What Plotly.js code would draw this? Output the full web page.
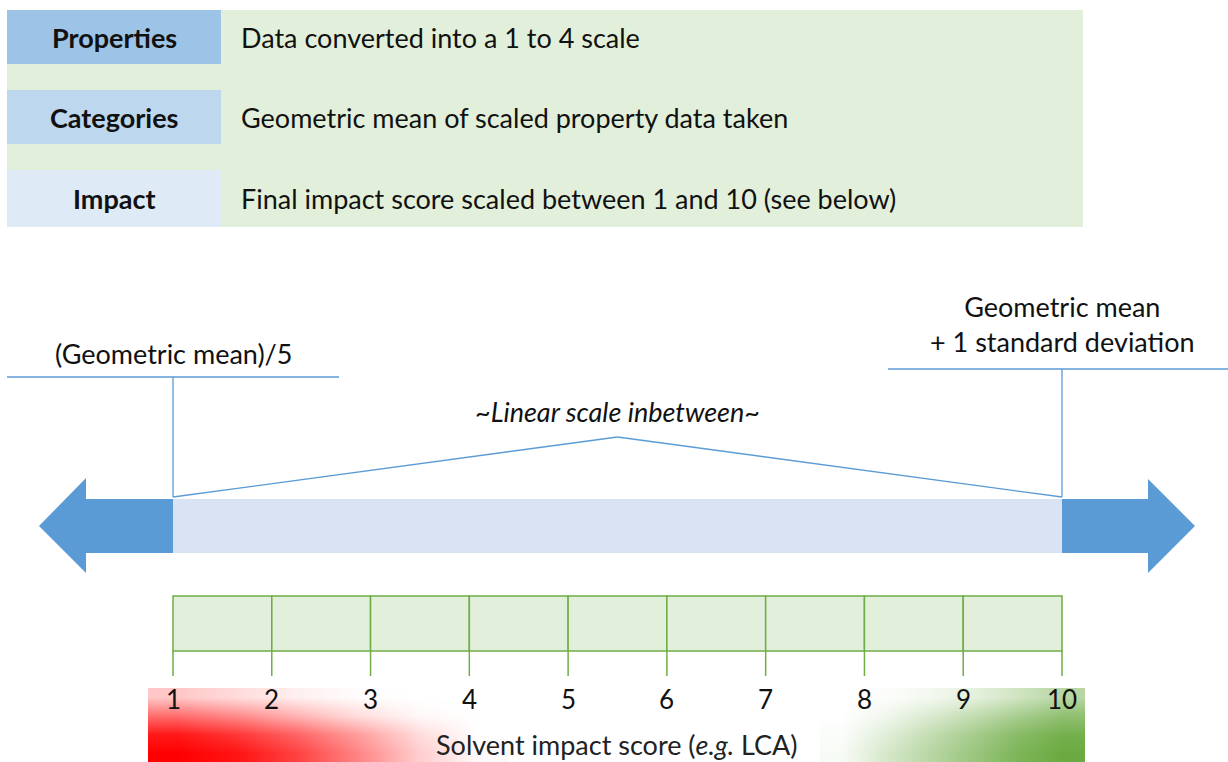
<!DOCTYPE html>
<html>
<head>
<meta charset="utf-8">
<script src="https://cdn.plot.ly/plotly-3.0.1.min.js"></script>
<style>html,body{margin:0;padding:0;background:#fff;}#chart{width:1228px;height:762px;}</style>
</head>
<body>
<div id="chart"></div>
<script>
// ---- data ----
const rowLabels = ['Properties', 'Categories', 'Impact'];
const rowDescriptions = [
  'Data converted into a 1 to 4 scale',
  'Geometric mean of scaled property data taken',
  'Final impact score scaled between 1 and 10 (see below)'
];
const scores = [1, 2, 3, 4, 5, 6, 7, 8, 9, 10];
const tickLabels = ['1', '2', '3', '4', '5', '6', '7', '8', '9', '10'];
const lowLabel = '(Geometric mean)/5';
const highLabel = 'Geometric mean<br>+ 1 standard deviation';
const midLabel = '<i>~Linear scale inbetween~</i>';
const axisLabel = 'Solvent impact score (<i>e.g.</i> LCA)';
// gradient intensities (0 = white, 1 = full colour), rows top -> bottom
const redFade = [
  [0.22, 0.14, 0.06, 0.01, 0.00, 0.00],
  [0.58, 0.46, 0.30, 0.14, 0.03, 0.00],
  [0.90, 0.78, 0.60, 0.38, 0.14, 0.00],
  [1.00, 0.92, 0.74, 0.48, 0.20, 0.02]
];
const greenFade = [
  [0.00, 0.02, 0.08, 0.18, 0.32, 0.48],
  [0.00, 0.10, 0.25, 0.42, 0.60, 0.75],
  [0.03, 0.20, 0.40, 0.60, 0.80, 0.93],
  [0.05, 0.28, 0.48, 0.68, 0.88, 1.00]
];

// ---- layout geometry (pixels) ----
const W = 1228, H = 762;
const s1px = 173, s10px = 1062;
const u = (s10px - s1px) / (scores[scores.length - 1] - scores[0]);
const x2range = [scores[0] - s1px / u, scores[0] + (W - s1px) / u];
const FONT = 'Lato, "Open Sans", sans-serif';
const FS = 27;
const blue = '#5B9BD5';
const green = '#70AD47';

const shapes = [];
const annotations = [];

// top panel
shapes.push({type: 'rect', xref: 'x', yref: 'y', x0: 7, x1: 1083, y0: 10, y1: 227, fillcolor: '#E2EFDA', line: {width: 0}, layer: 'below'});
const rowBoxColors = ['#9DC3E6', '#BDD7EE', '#DEEBF7'];
const rowY = [[10, 64], [90, 144], [170, 227]];
rowLabels.forEach((lab, i) => {
  shapes.push({type: 'rect', xref: 'x', yref: 'y', x0: 7, x1: 221, y0: rowY[i][0], y1: rowY[i][1], fillcolor: rowBoxColors[i], line: {width: 0}, layer: 'below'});
  const yc = (rowY[i][0] + rowY[i][1]) / 2;
  annotations.push({xref: 'x', yref: 'y', x: 114, y: yc, text: '<b>' + lab + '</b>', showarrow: false, xanchor: 'center', yanchor: 'middle', font: {family: FONT, size: FS, color: '#111'}});
  annotations.push({xref: 'x', yref: 'y', x: 239, y: yc, text: rowDescriptions[i], showarrow: false, xanchor: 'left', yanchor: 'middle', font: {family: FONT, size: FS, color: '#111'}});
});

// central bar (score 1 -> 10)
shapes.push({type: 'rect', xref: 'x2', yref: 'y', x0: scores[0], x1: scores[scores.length - 1], y0: 499, y1: 553, fillcolor: '#DAE3F3', line: {width: 0}});
// arrows
shapes.push({type: 'path', xref: 'x', yref: 'y', path: 'M173,499 L86,499 L86,478 L39,526 L86,573 L86,553 L173,553 Z', fillcolor: blue, line: {width: 0}});
shapes.push({type: 'path', xref: 'x', yref: 'y', path: 'M1062,499 L1148,499 L1148,479 L1195,526 L1148,573 L1148,553 L1062,553 Z', fillcolor: blue, line: {width: 0}});

// bracket lines
const lineStyle = {color: blue, width: 1.3};
shapes.push({type: 'line', xref: 'x', yref: 'y', x0: 7, x1: 339, y0: 377, y1: 377, line: lineStyle});
shapes.push({type: 'line', xref: 'x2', yref: 'y', x0: scores[0], x1: scores[0], y0: 377, y1: 497, line: lineStyle});
shapes.push({type: 'line', xref: 'x', yref: 'y', x0: 888, x1: 1228, y0: 369, y1: 369, line: lineStyle});
shapes.push({type: 'line', xref: 'x2', yref: 'y', x0: scores[scores.length - 1], x1: scores[scores.length - 1], y0: 369, y1: 497, line: lineStyle});
const midScore = (scores[0] + scores[scores.length - 1]) / 2;
shapes.push({type: 'line', xref: 'x2', yref: 'y', x0: scores[0], x1: midScore, y0: 497, y1: 437, line: lineStyle});
shapes.push({type: 'line', xref: 'x2', yref: 'y', x0: midScore, x1: scores[scores.length - 1], y0: 437, y1: 497, line: lineStyle});

annotations.push({xref: 'x2', yref: 'y', x: scores[0], y: 353, text: lowLabel, showarrow: false, xanchor: 'center', yanchor: 'middle', font: {family: FONT, size: FS, color: '#111'}});
annotations.push({xref: 'x2', yref: 'y', x: scores[scores.length - 1], y: 324, text: highLabel, showarrow: false, xanchor: 'center', yanchor: 'middle', align: 'center', font: {family: FONT, size: FS, color: '#111'}});
annotations.push({xref: 'x2', yref: 'y', x: midScore, y: 411, text: midLabel, showarrow: false, xanchor: 'center', yanchor: 'middle', font: {family: FONT, size: FS, color: '#111'}});

// score grid
for (let i = 0; i < scores.length - 1; i++) {
  shapes.push({type: 'rect', xref: 'x2', yref: 'y', x0: scores[i], x1: scores[i + 1], y0: 596, y1: 651, fillcolor: '#E2EFDA', line: {color: green, width: 1.5}});
}
scores.forEach((s, i) => {
  shapes.push({type: 'line', xref: 'x2', yref: 'y', x0: s, x1: s, y0: 651, y1: 676, line: {color: green, width: 1.5}});
  annotations.push({xref: 'x2', yref: 'y', x: s, y: 699, text: tickLabels[i], showarrow: false, xanchor: 'center', yanchor: 'middle', font: {family: FONT, size: 26, color: '#111'}});
});
annotations.push({xref: 'x', yref: 'y', x: 617, y: 744, text: axisLabel, showarrow: false, xanchor: 'center', yanchor: 'middle', font: {family: FONT, size: FS, color: '#222'}});

// gradient heatmaps
function centers(a, b, n) { const d = (b - a) / n; const r = []; for (let i = 0; i < n; i++) r.push(a + d * (i + 0.5)); return r; }
const gy = centers(688, 762, redFade.length);
const red = {type: 'heatmap', x: centers(148, 508, redFade[0].length), y: gy, z: redFade, zmin: 0, zmax: 1, zsmooth: 'best', showscale: false, hoverinfo: 'skip', xaxis: 'x', yaxis: 'y',
  colorscale: [[0, 'rgba(255,0,0,0)'], [1, 'rgba(255,0,0,1)']]};
const grn = {type: 'heatmap', x: centers(820, 1085, greenFade[0].length), y: gy, z: greenFade, zmin: 0, zmax: 1, zsmooth: 'best', showscale: false, hoverinfo: 'skip', xaxis: 'x', yaxis: 'y',
  colorscale: [[0, 'rgba(106,170,64,0)'], [1, 'rgba(106,170,64,1)']]};

const layout = {
  width: W, height: H, margin: {l: 0, r: 0, t: 0, b: 0},
  paper_bgcolor: '#fff', plot_bgcolor: '#fff', showlegend: false,
  xaxis: {range: [0, W], visible: false, fixedrange: true},
  xaxis2: {range: x2range, overlaying: 'x', visible: false, fixedrange: true},
  yaxis: {range: [H, 0], visible: false, fixedrange: true},
  shapes: shapes, annotations: annotations
};
Plotly.newPlot('chart', [red, grn], layout, {staticPlot: true, displayModeBar: false});
</script>
</body>
</html>
